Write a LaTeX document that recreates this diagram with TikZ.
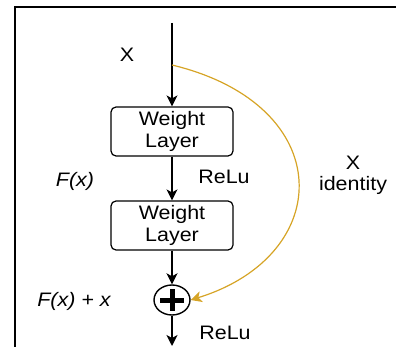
\documentclass[tikz,border=0pt]{standalone}
\usepackage{fontspec}
\setmainfont{Liberation Sans}[FakeStretch=1.1]
\usetikzlibrary{arrows.meta,shapes.geometric}
\definecolor{skipgold}{RGB}{214,164,38}

\begin{document}
\begin{tikzpicture}[
            x=1pt, y=-1pt,
            every node/.style={font=\fontsize{19.5}{22}\selectfont, inner sep=0pt},
            flow/.style={line width=1.4pt, -{Stealth[length=11pt,width=11pt,inset=3pt]}},
            skip/.style={skipgold, line width=1.2pt, -{Stealth[length=11pt,width=11pt,inset=3pt]}},
            layer/.style={draw, line width=1.2pt, rounded corners=5pt, minimum width=122pt, minimum height=49pt, align=center},
            lbl/.style={anchor=base},
        ]
        \useasboundingbox (0,0) rectangle (396,347);
        \draw[line width=1.5pt] (15,347) -- (15,7);
        \draw[line width=2.3pt] (14.25,7) -- (396,7);

        \coordinate (input) at (172,23);
        \coordinate (branch) at (172,65);
        \coordinate (output) at (172,346);

        \node[layer] (wl1) at (172,131.5) {Weight\\Layer};
        \node[layer] (wl2) at (172,225.5) {Weight\\Layer};
        \node[ellipse, draw, line width=1.4pt, minimum width=36pt, minimum height=30pt] (sum) at (172,300) {};
        \draw[line width=5pt] (sum.center) +(-12,0) -- +(12,0);
        \draw[line width=5pt] (sum.center) +(0,-11) -- +(0,11);

        \draw[flow] (input) -- (wl1.north);
        \draw[flow] (wl1.south) -- (wl2.north);
        \draw[flow] (wl2.south) -- (sum.north);
        \draw[flow] (sum.south) -- (output);
        \draw[skip] (branch) .. controls (338,105) and (336,255) .. (sum.east);

        \node[lbl] (xin) at (127,62) {X};
        \node[lbl] (fx) at (75,187) {\itshape F(x)};
        \node[lbl] (relu1) at (224,184) {ReLu};
        \node[lbl] (xid) at (353,170) {X};
        \node[lbl] (ident) at (353,191) {identity};
        \node[lbl] (fxx) at (74,306) {\itshape F(x) + x};
        \node[lbl] (relu2) at (225,339) {ReLu};
    \end{tikzpicture}
\end{document}
